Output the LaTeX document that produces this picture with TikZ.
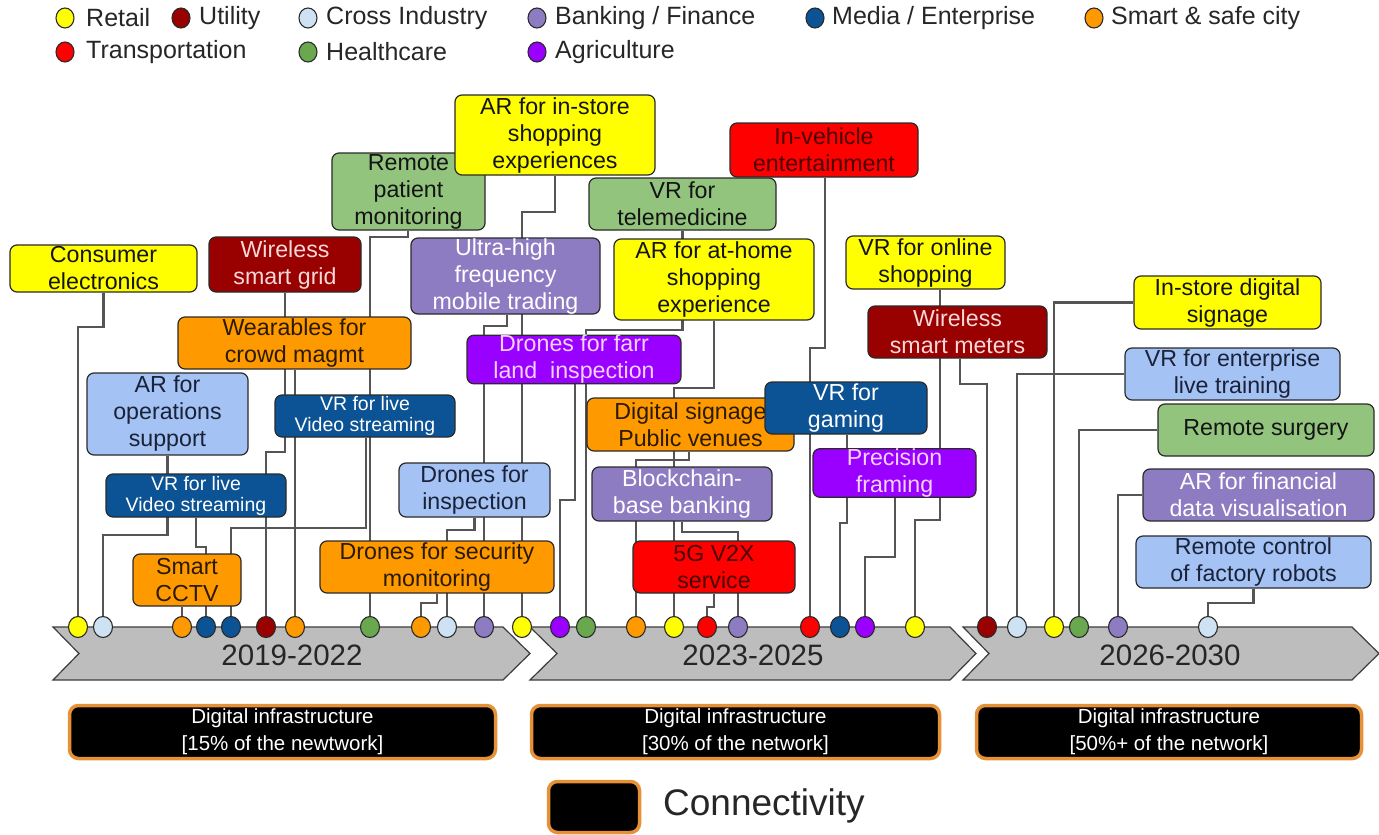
\documentclass[tikz,border=0pt]{standalone}
\usepackage{fontspec}
\setmainfont{Liberation Sans}
\usetikzlibrary{shapes.geometric,backgrounds}

% sector colours
\definecolor{cYel}{HTML}{FFFF00}
\definecolor{cDRed}{HTML}{990000}
\definecolor{cPale}{HTML}{CFE2F3}
\definecolor{cLav}{HTML}{8E7CC3}
\definecolor{cBlue}{HTML}{0B5394}
\definecolor{cOrg}{HTML}{FF9900}
\definecolor{cRed}{HTML}{FF0000}
\definecolor{cGrnDot}{HTML}{6AA84F}
\definecolor{cGrnBox}{HTML}{93C47D}
\definecolor{cViol}{HTML}{9900FF}
\definecolor{cLBlue}{HTML}{A4C2F4}
\definecolor{cFrame}{HTML}{E69138}
% text and line colours
\definecolor{tDark}{HTML}{141414}
\definecolor{tPink}{HTML}{F8D8D8}
\definecolor{tMaroon}{HTML}{4A0000}
\definecolor{tLilac}{HTML}{F6D2FF}
\definecolor{tNavy}{HTML}{1A2238}
\definecolor{tBrown}{HTML}{2A1A00}
\definecolor{tGray}{HTML}{262626}
\definecolor{boxline}{HTML}{2A2A2A}
\definecolor{connc}{HTML}{555555}
\definecolor{chevfill}{HTML}{BDBDBD}
\definecolor{chevline}{HTML}{3C3C3C}

\newcommand\boxfont{\fontsize{23.2}{27}\selectfont}
\newcommand\smallboxfont{\fontsize{19.5}{21}\selectfont}
\newcommand\legfont{\fontsize{25}{27}\selectfont}

% elbow connector: box bottom (with x offset) -> down to given y -> across to dot -> down
\newcommand\lnk[4][0]{\draw[conn] ([xshift=#1pt]#2.south) |- (#4 |- 0,#3) -- (#4);}

\tikzset{
  ubox/.style={draw=boxline, line width=1.2pt, rounded corners=7pt, inner sep=0pt,
    align=center, font=\boxfont, text=tDark},
  sdot/.style={ellipse, draw=boxline, line width=1.1pt, minimum width=19pt,
    minimum height=21pt, inner sep=0pt},
  ldot/.style={ellipse, draw=boxline, line width=1.1pt, minimum width=18pt,
    minimum height=20pt, inner sep=0pt},
  legtxt/.style={anchor=west, inner sep=0pt, font=\legfont, text=tGray},
  conn/.style={draw=connc, line width=2.6pt},
  chev/.style={fill=chevfill, draw=chevline, line width=1.2pt, line join=miter},
  yearlbl/.style={inner sep=0pt, font=\fontsize{29.5}{31}\selectfont, text=tGray},
  infra/.style={fill=black, draw=cFrame, line width=3.5pt, rounded corners=9pt,
    inner sep=0pt, align=center, text=white, font=\fontsize{20.5}{27}\selectfont},
}

\begin{document}
\begin{tikzpicture}[x=1pt,y=-1pt]
\useasboundingbox (0,0) rectangle (1379,835);

% ---------- legend ----------
\node[ldot, fill=cYel]    (lg1) at (65,18) {};   \node[legtxt] (lt1) at (86,18)   {Retail};
\node[ldot, fill=cDRed]   (lg2) at (181,18) {};  \node[legtxt] (lt2) at (199,18)  {Utility};
\node[ldot, fill=cPale]   (lg3) at (308,18) {};  \node[legtxt] (lt3) at (326,18)  {Cross Industry};
\node[ldot, fill=cLav]    (lg4) at (537,18) {};  \node[legtxt] (lt4) at (555,18)  {Banking / Finance};
\node[ldot, fill=cBlue]   (lg5) at (815,18) {};  \node[legtxt] (lt5) at (832,18)  {Media / Enterprise};
\node[ldot, fill=cOrg]    (lg6) at (1094,18) {}; \node[legtxt] (lt6) at (1111,18) {Smart \& safe city};
\node[ldot, fill=cRed]    (lg7) at (65,52) {};   \node[legtxt] (lt7) at (86,52)   {Transportation};
\node[ldot, fill=cGrnDot] (lg8) at (308,52) {};  \node[legtxt] (lt8) at (326,52)  {Healthcare};
\node[ldot, fill=cViol]   (lg9) at (537,52) {};  \node[legtxt] (lt9) at (555,52)  {Agriculture};

% ---------- use-case boxes ----------
\node[ubox, fill=cYel, minimum width=187pt, minimum height=47pt] (ce) at (103.5,268.5) {Consumer\\electronics};
\node[ubox, fill=cDRed, text=tPink, minimum width=152pt, minimum height=55pt] (wsg) at (285,264.5) {Wireless\\smart grid};
\node[ubox, fill=cGrnBox, minimum width=153pt, minimum height=77pt] (rpm) at (408.5,191.5) {Remote\\patient\\monitoring};
\node[ubox, fill=cYel, minimum width=200pt, minimum height=80pt] (ais) at (555,135) {AR for in-store\\shopping\\experiences};
\node[ubox, fill=cRed, text=tMaroon, minimum width=188pt, minimum height=54pt] (ive) at (824,150) {In-vehicle\\entertainment};
\node[ubox, fill=cGrnBox, minimum width=187pt, minimum height=52pt] (vtm) at (682.5,204) {VR for\\telemedicine};
\node[ubox, fill=cLav, text=white, minimum width=189pt, minimum height=76pt] (uhf) at (505.5,276) {Ultra-high\\frequency\\mobile trading};
\node[ubox, fill=cYel, minimum width=200pt, minimum height=81pt] (aah) at (714,279.5) {AR for at-home\\shopping\\experience};
\node[ubox, fill=cYel, minimum width=159pt, minimum height=53pt] (vos) at (925.5,262.5) {VR for online\\shopping};
\node[ubox, fill=cYel, minimum width=187pt, minimum height=53pt] (isd) at (1227.5,302.5) {In-store digital\\signage};
\node[ubox, fill=cOrg, text=tBrown, minimum width=233pt, minimum height=52pt] (wcm) at (294.5,343) {Wearables for\\crowd magmt};
\node[ubox, fill=cDRed, text=tPink, minimum width=179pt, minimum height=52pt] (wsm) at (957.5,332) {Wireless\\smart meters};
\node[ubox, fill=cViol, text=tLilac, minimum width=214pt, minimum height=43pt] (dfl) at (574,359.5) {Drones for farr\\land\ \ inspection};
\node[ubox, fill=cLBlue, text=tNavy, minimum width=215pt, minimum height=52pt] (vet) at (1232.5,374) {VR for enterprise\\live training};
\node[ubox, fill=cLBlue, text=tNavy, minimum width=161pt, minimum height=82pt] (aos) at (167.5,414) {AR for\\operations\\support};
\node[ubox, fill=cBlue, text=white, font=\smallboxfont, minimum width=180pt, minimum height=42pt] (vls1) at (365,416) {VR for live\\Video streaming};
\node[ubox, fill=cOrg, text=tBrown, minimum width=207pt, minimum height=53pt] (dsp) at (690.5,424.5) {Digital signage\\Public venues};
\node[ubox, fill=cBlue, text=white, minimum width=162pt, minimum height=52pt] (vfg) at (846,408) {VR for\\gaming};
\node[ubox, fill=cGrnBox, minimum width=216pt, minimum height=52pt] (rsu) at (1266,430) {Remote surgery};
\node[ubox, fill=cViol, text=tLilac, minimum width=163pt, minimum height=46pt] (prf) at (894.5,473) {Precision\\framing};
\node[ubox, fill=cLBlue, text=tNavy, minimum width=151pt, minimum height=54pt] (dfi) at (474.5,490) {Drones for\\inspection};
\node[ubox, fill=cBlue, text=white, font=\smallboxfont, minimum width=180pt, minimum height=43pt] (vls2) at (196,495.5) {VR for live\\Video streaming};
\node[ubox, fill=cLav, text=white, minimum width=180pt, minimum height=54pt] (bbb) at (682,494) {Blockchain-\\base banking};
\node[ubox, fill=cLav, text=white, minimum width=231pt, minimum height=52pt] (afd) at (1258.5,495) {AR for financial\\data visualisation};
\node[ubox, fill=cLBlue, text=tNavy, minimum width=235pt, minimum height=52pt] (rcr) at (1253.5,562) {Remote control\\of factory robots};
\node[ubox, fill=cOrg, text=tBrown, minimum width=108pt, minimum height=52pt] (scc) at (187,580) {Smart\\CCTV};
\node[ubox, fill=cOrg, text=tBrown, minimum width=234pt, minimum height=52pt] (dsm) at (437,567) {Drones for security\\monitoring};
\node[ubox, fill=cRed, text=tMaroon, minimum width=162pt, minimum height=52pt] (v2x) at (714,567) {5G V2X\\service};

% ---------- timeline dots ----------
% 2019-2022
\node[sdot, fill=cYel]    (y1) at (78,627) {};
\node[sdot, fill=cPale]   (c1) at (103,627) {};
\node[sdot, fill=cOrg]    (o1) at (182,627) {};
\node[sdot, fill=cBlue]   (b1) at (206,627) {};
\node[sdot, fill=cBlue]   (b2) at (231,627) {};
\node[sdot, fill=cDRed]   (u1) at (266,627) {};
\node[sdot, fill=cOrg]    (o2) at (295,627) {};
\node[sdot, fill=cGrnDot] (g1) at (370,627) {};
\node[sdot, fill=cOrg]    (o3) at (421,627) {};
\node[sdot, fill=cPale]   (c2) at (447,627) {};
\node[sdot, fill=cLav]    (f1) at (484,627) {};
\node[sdot, fill=cYel]    (y2) at (522,627) {};
% 2023-2025
\node[sdot, fill=cViol]   (a1) at (560,627) {};
\node[sdot, fill=cGrnDot] (g2) at (586,627) {};
\node[sdot, fill=cOrg]    (o4) at (636,627) {};
\node[sdot, fill=cYel]    (y3) at (674,627) {};
\node[sdot, fill=cRed]    (r1) at (707,627) {};
\node[sdot, fill=cLav]    (f2) at (738,627) {};
\node[sdot, fill=cRed]    (r2) at (810,627) {};
\node[sdot, fill=cBlue]   (b3) at (840,627) {};
\node[sdot, fill=cViol]   (a2) at (865,627) {};
\node[sdot, fill=cYel]    (y4) at (915,627) {};
% 2026-2030
\node[sdot, fill=cDRed]   (u2) at (987,627) {};
\node[sdot, fill=cPale]   (c3) at (1017,627) {};
\node[sdot, fill=cYel]    (y5) at (1054,627) {};
\node[sdot, fill=cGrnDot] (g3) at (1079,627) {};
\node[sdot, fill=cLav]    (f3) at (1118,627) {};
\node[sdot, fill=cPale]   (c4) at (1208,627) {};

% ---------- period labels ----------
\node[yearlbl] (t1) at (292,655) {2019-2022};
\node[yearlbl] (t2) at (753,655) {2023-2025};
\node[yearlbl] (t3) at (1170,655) {2026-2030};

% ---------- infrastructure bars ----------
\node[infra, minimum width=426pt, minimum height=53pt] (i1) at (282.5,732) {Digital infrastructure\\{[}15\% of the newtwork{]}};
\node[infra, minimum width=408pt, minimum height=53pt] (i2) at (735.5,732) {Digital infrastructure\\{[}30\% of the network{]}};
\node[infra, minimum width=385pt, minimum height=53pt] (i3) at (1169,732) {Digital infrastructure\\{[}50\%+ of the network{]}};

% ---------- connectivity key ----------
\node[infra, minimum width=91pt, minimum height=51pt] (ck) at (594,807) {};
\node[inner sep=0pt, anchor=west, font=\fontsize{37}{40}\selectfont, text=tGray] (ct) at (663,806) {Connectivity};

% ---------- chevrons and connectors behind the boxes ----------
\begin{pgfonlayer}{background}
\draw[chev] (53,627) -- (503,627) -- (530,653.5) -- (503,680) -- (53,680) -- (79,653.5) -- cycle;
\draw[chev] (530,627) -- (950,627) -- (976,653.5) -- (950,680) -- (530,680) -- (557,653.5) -- cycle;
\draw[chev] (963,627) -- (1352,627) -- (1379,653.5) -- (1352,680) -- (963,680) -- (989,653.5) -- cycle;

% 2019-2022
\lnk{ce}{327}{y1}
\lnk{aos}{535}{c1}
\draw[conn] (scc.south -| o1) -- (o1);
\lnk{vls2}{547}{b1}
\lnk[1]{vls1}{528}{b2}
\lnk{wsg}{452}{u1}
\draw[conn] (wcm.south -| o2) -- (o2);
\lnk[-0.5]{rpm}{237}{g1}
\lnk{dsm}{603}{o3}
\lnk{dfi}{530}{c2}
\lnk[1.5]{uhf}{326}{f1}
\lnk{ais}{212}{y2}
% 2023-2025
\lnk[1]{dfl}{500}{a1}
\lnk{vtm}{330}{g2}
\lnk[-1.5]{dsp}{460}{o4}
\lnk{aah}{388}{y3}
\lnk{v2x}{607}{r1}
\lnk{bbb}{532}{f2}
\lnk[1]{ive}{348}{r2}
\lnk[1]{vfg}{523}{b3}
\lnk[0.5]{prf}{557}{a2}
\lnk[14.5]{vos}{520}{y4}
% 2026-2030
\lnk[2.5]{wsm}{384}{u2}
\draw[conn] (vet.west) -| (c3);
\draw[conn] (isd.west) -| (y5);
\draw[conn] (rsu.west) -| (g3);
\draw[conn] (afd.west) -| (f3);
\lnk{rcr}{603}{c4}
\end{pgfonlayer}
\end{tikzpicture}
\end{document}
